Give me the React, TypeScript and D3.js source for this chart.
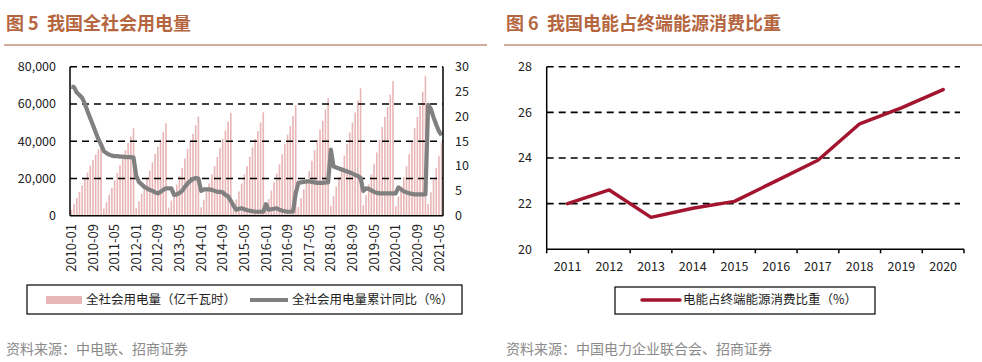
import React from "react";
import * as d3 from "d3";

// ---- 图5 data: 全社会用电量 (cumulative, 亿千瓦时) and 累计同比 (%)
const years = [2010, 2011, 2012, 2013, 2014, 2015, 2016, 2017, 2018, 2019, 2020, 2021];
const monthNames = ["01", "02", "03", "04", "05", "06", "07", "08", "09", "10", "11", "12"];

const use2010 = [3000, 6200, 9500, 12800, 16300, 19700, 23200, 26900, 30000, 32800, 35600, 38500];
const use2011 = [3800, 7200, 11200, 15000, 19000, 23000, 27100, 31600, 35300, 39000, 42600, 46900];
const use2012 = [4000, 7700, 11800, 15800, 20000, 24200, 28700, 33200, 37000, 40800, 45100, 49600];
const use2013 = [4300, 8100, 12500, 16700, 21200, 25700, 30700, 35900, 40000, 44000, 48600, 53200];
const use2014 = [4500, 8600, 13100, 17400, 22100, 26700, 31600, 36400, 41300, 45800, 50600, 55200];
const use2015 = [4400, 8700, 13000, 17300, 22100, 26600, 31600, 36600, 41100, 45400, 50100, 55500];
const use2016 = [4500, 8900, 13500, 17900, 22700, 27600, 33000, 38600, 43500, 48200, 53600, 59200];
const use2017 = [4700, 9500, 14200, 19000, 24000, 29500, 35200, 41000, 46200, 51000, 57000, 63100];
const use2018 = [5300, 10400, 15600, 20800, 26100, 32300, 38500, 44700, 50100, 55400, 61800, 68400];
const use2019 = [5600, 10900, 16800, 22100, 27700, 34000, 40700, 47600, 53100, 58300, 65000, 72300];
const use2020 = [5200, 10300, 15700, 20800, 26600, 33000, 40000, 47000, 53000, 59000, 66500, 75100];
const use2021 = [6300, 12600, 19200, 25600, 32000, 39300];

const yoy2010 = [26.0, 25.9, 24.8, 24.3, 23.7, 22.5, 21.0, 19.6, 18.2, 16.8, 15.4, 14.3];
const yoy2011 = [13.0, 12.6, 12.3, 12.1, 12.0, 12.0, 11.9, 11.9, 11.8, 11.8, 11.8, 11.7];
const yoy2012 = [8.0, 6.8, 6.3, 5.8, 5.5, 5.2, 5.0, 4.7, 4.5, 4.8, 5.2, 5.5];
const yoy2013 = [5.5, 5.5, 4.2, 4.3, 4.6, 5.0, 5.8, 6.5, 7.0, 7.4, 7.6, 7.5];
const yoy2014 = [5.0, 5.3, 5.3, 5.3, 5.2, 5.0, 4.8, 4.8, 4.7, 4.2, 3.9, 3.0];
const yoy2015 = [2.0, 1.2, 1.4, 1.5, 1.3, 1.1, 1.0, 0.9, 0.8, 0.8, 0.8, 0.8];
const yoy2016 = [2.3, 1.2, 1.3, 1.4, 1.5, 1.2, 1.0, 0.9, 0.8, 0.8, 0.8, 4.5];
const yoy2017 = [6.6, 6.7, 6.8, 6.9, 6.9, 6.8, 6.7, 6.6, 6.6, 6.6, 6.7, 6.7];
const yoy2018 = [13.3, 9.9, 9.7, 9.5, 9.3, 9.1, 8.9, 8.7, 8.5, 8.2, 8.0, 7.6];
const yoy2019 = [5.0, 5.5, 5.4, 5.1, 4.8, 4.6, 4.5, 4.5, 4.5, 4.5, 4.5, 4.5];
const yoy2020 = [4.5, 5.7, 5.3, 4.9, 4.7, 4.5, 4.4, 4.3, 4.3, 4.3, 4.3, 4.3];
const yoy2021 = [22.3, 21.5, 19.8, 18.3, 17.0, 16.2];

const leftTicks = [0, 20000, 40000, 60000, 80000];
const rightTicks = [0, 5, 10, 15, 20, 25, 30];

// ---- 图6 data: 电能占终端能源消费比重 (%)
const shareYears = ["2011", "2012", "2013", "2014", "2015", "2016", "2017", "2018", "2019", "2020"];
const shareValues = [22.0, 22.6, 21.4, 21.8, 22.1, 23.0, 23.9, 25.5, 26.2, 27.0];
const shareTicks = [20, 22, 24, 26, 28];

const FONT = "'Noto Sans CJK SC', 'Noto Sans', sans-serif";
const TITLE_COLOR = "#B5663F";
const RULE_COLOR = "#C4907A";

export default function App() {
  const useAll = [use2010, use2011, use2012, use2013, use2014, use2015, use2016, use2017, use2018, use2019, use2020, use2021];
  const yoyAll = [yoy2010, yoy2011, yoy2012, yoy2013, yoy2014, yoy2015, yoy2016, yoy2017, yoy2018, yoy2019, yoy2020, yoy2021];
  const rows: { month: string; use: number; yoy: number }[] = [];
  years.forEach((y, yi) => {
    useAll[yi].forEach((v, mi) => {
      rows.push({ month: `${y}-${monthNames[mi]}`, use: v, yoy: yoyAll[yi][mi] });
    });
  });

  // left chart
  const m1 = { left: 70, right: 443, top: 66.7, bottom: 215.7 };
  const x1 = d3.scaleBand<string>().domain(rows.map(d => d.month)).range([m1.left, m1.right]);
  const yL = d3.scaleLinear().domain([0, 80000]).range([m1.bottom, m1.top]);
  const yR = d3.scaleLinear().domain([0, 30]).range([m1.bottom, m1.top]);
  const bw = x1.bandwidth();
  const yoyLine = d3.line<typeof rows[0]>()
    .x(d => (x1(d.month) as number) + bw / 2)
    .y(d => yR(d.yoy));
  const labelMonths = rows.map(d => d.month).filter((_, i) => i % 8 === 0 && i <= 136);
  const fmt = d3.format(",");

  // right chart
  const m2 = { left: 546.7, right: 964, top: 66.7, bottom: 249.3 };
  const x2 = d3.scaleBand<string>().domain(shareYears).range([m2.left, m2.right]);
  const y2 = d3.scaleLinear().domain([20, 28]).range([m2.bottom, m2.top]);
  const shareLine = d3.line<number>()
    .x((_, i) => (x2(shareYears[i]) as number) + x2.bandwidth() / 2)
    .y(d => y2(d));
  const boundaries = shareYears.map(s => x2(s) as number).concat([m2.right]);

  return (
    <svg width={982} height={362} style={{ position: "absolute", left: 0, top: 0, background: "#fff" }} fontFamily={FONT}>
      {/* titles */}
      <text x={6} y={30} fontSize={18} fontWeight={700} fill={TITLE_COLOR} xmlSpace="preserve" style={{ whiteSpace: "pre" }}>图 5  我国全社会用电量</text>
      <line x1={4} x2={487} y1={45} y2={45} stroke={RULE_COLOR} strokeWidth={1.5} />
      <text x={506} y={30} fontSize={18} fontWeight={700} fill={TITLE_COLOR} xmlSpace="preserve" style={{ whiteSpace: "pre" }}>图 6  我国电能占终端能源消费比重</text>
      <line x1={504} x2={982} y1={45} y2={45} stroke={RULE_COLOR} strokeWidth={1.5} />

      {/* ---- left chart ---- */}
      <g>
        {rows.map(d => (
          <rect key={d.month} x={(x1(d.month) as number) + bw * 0.2} width={bw * 0.6}
            y={yL(d.use)} height={m1.bottom - yL(d.use)} fill="#E9B6B7" />
        ))}
        {leftTicks.filter(t => t > 0).map(t => (
          <line key={t} x1={m1.left} x2={m1.right} y1={yL(t)} y2={yL(t)} stroke="#000" strokeWidth={1.6} strokeDasharray="7,5" />
        ))}
        <path d={yoyLine(rows) || ""} fill="none" stroke="#808080" strokeWidth={4.2} strokeLinejoin="round" />
        <line x1={m1.left} x2={m1.left} y1={m1.top} y2={m1.bottom} stroke="#000" strokeWidth={1.5} />
        <line x1={m1.right} x2={m1.right} y1={m1.top} y2={m1.bottom} stroke="#000" strokeWidth={1.5} />
        <line x1={m1.left} x2={m1.right} y1={m1.bottom} y2={m1.bottom} stroke="#000" strokeWidth={1.5} />
        {leftTicks.map(t => (
          <text key={t} x={56} y={yL(t)} dy="0.35em" textAnchor="end" fontSize={12.5} fill="#222">{fmt(t)}</text>
        ))}
        {rightTicks.map(t => (
          <text key={t} x={455} y={yR(t)} dy="0.35em" textAnchor="start" fontSize={12.5} fill="#222">{t}</text>
        ))}
        {labelMonths.map(mo => (
          <text key={mo} transform={`translate(${(x1(mo) as number) + bw / 2},224) rotate(-90)`}
            textAnchor="end" dy="0.35em" fontSize={13} fill="#222">{mo}</text>
        ))}
        {/* legend */}
        <rect x={27} y={285} width={435} height={29} fill="#fff" stroke="#000" strokeWidth={1.2} />
        <rect x={46} y={296} width={36} height={8} fill="#E9B6B7" />
        <text x={86} y={300} dy="0.35em" fontSize={12.5} fill="#222">全社会用电量（亿千瓦时）</text>
        <line x1={250} x2={288} y1={300} y2={300} stroke="#808080" strokeWidth={4} />
        <text x={292} y={300} dy="0.35em" fontSize={12.5} fill="#222">全社会用电量累计同比（%）</text>
        <text x={6} y={354} fontSize={14} fill="#8a8a8a">资料来源：中电联、招商证券</text>
      </g>

      {/* ---- right chart ---- */}
      <g>
        {shareTicks.filter(t => t > 20).map(t => (
          <line key={t} x1={m2.left} x2={960} y1={y2(t)} y2={y2(t)} stroke="#000" strokeWidth={1.6} strokeDasharray="7,5" />
        ))}
        <line x1={m2.left} x2={m2.left} y1={m2.top} y2={m2.bottom} stroke="#000" strokeWidth={1.5} />
        <line x1={m2.left} x2={m2.right} y1={m2.bottom} y2={m2.bottom} stroke="#000" strokeWidth={1.5} />
        {boundaries.map((bx, i) => (
          <line key={i} x1={bx} x2={bx} y1={m2.bottom} y2={m2.bottom + 4} stroke="#000" strokeWidth={1.5} />
        ))}
        {shareTicks.map(t => (
          <text key={t} x={532} y={y2(t)} dy="0.35em" textAnchor="end" fontSize={12.5} fill="#222">{t}</text>
        ))}
        {shareYears.map(s => (
          <text key={s} x={(x2(s) as number) + x2.bandwidth() / 2} y={267} dy="0.35em" textAnchor="middle" fontSize={12.5} fill="#222">{s}</text>
        ))}
        <path d={shareLine(shareValues) || ""} fill="none" stroke="#A3152F" strokeWidth={3.5} strokeLinejoin="round" strokeLinecap="round" />
        <rect x={615} y={287} width={260} height={27} fill="#fff" stroke="#000" strokeWidth={1.2} />
        <line x1={642} x2={680} y1={300} y2={300} stroke="#A3152F" strokeWidth={3.5} strokeLinecap="round" />
        <text x={683} y={300} dy="0.35em" fontSize={12.5} fill="#222">电能占终端能源消费比重（%）</text>
        <text x={506} y={354} fontSize={14} fill="#8a8a8a">资料来源：中国电力企业联合会、招商证券</text>
      </g>
    </svg>
  );
}
